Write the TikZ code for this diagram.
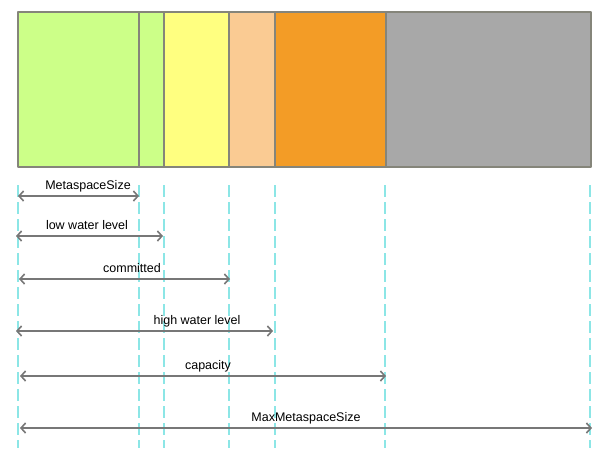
\documentclass[tikz,border=0pt]{standalone}
\usepackage{fontspec}
\setmainfont{Liberation Sans}
\usetikzlibrary{arrows.meta}
\definecolor{segGreen}{HTML}{CCFF88}
\definecolor{segYellow}{HTML}{FFFF80}
\definecolor{segPeach}{HTML}{FACB93}
\definecolor{segOrange}{HTML}{F39C26}
\definecolor{segGray}{HTML}{A8A8A8}
\definecolor{segEdge}{HTML}{85857A}
\definecolor{guideCyan}{HTML}{8CE6E6}
\definecolor{spanGray}{HTML}{777777}
\tikzset{
  segbox/.style={draw=segEdge, line width=1.2pt},
  guide/.style={draw=guideCyan, line width=1.4pt, dash pattern=on 12pt off 5pt, line cap=butt},
  span/.style={draw=spanGray, line width=1.6pt, {Straight Barb[length=4.5pt,width=10pt]}-{Straight Barb[length=4.5pt,width=10pt]}},
  spanlabel/.style={font=\fontsize{12.5}{14}\selectfont, text=black, inner sep=0pt}
}
\begin{document}
\begin{tikzpicture}[x=1pt, y=-1pt, line join=round, line cap=round]
\useasboundingbox (0,0) rectangle (609,448);

% Segmente des Metaspace
\foreach \xa/\xb/\col in {18/139/segGreen, 139/164/segGreen, 164/229/segYellow,
    229/275/segPeach, 275/386/segOrange, 386/591/segGray}
  \filldraw[segbox, fill=\col] (\xa,12) rectangle (\xb,167);

% Hilfslinien
\foreach \x [count=\i] in {18,139,164,229,275,385,590}
  \draw[guide] (\x,185) coordinate (g\i) -- (\x,448);

% Bemaßungen
\foreach \y/\xa/\xb/\lx/\lab [count=\i] in {
    196/18/139/88/MetaspaceSize,
    236/16/163/87/low water level,
    279/19/230/132/committed,
    331/16/273/197/high water level,
    376/20/386/208/capacity,
    428/20/592/306/MaxMetaspaceSize
  } {
  \coordinate (s\i) at (\xa,\y);
  \coordinate (e\i) at (\xb,\y);
  \draw[span] (s\i) -- (e\i);
  \node[spanlabel, anchor=base] (lab\i) at (\lx,\y-6.5) {\lab};
}
\end{tikzpicture}
\end{document}
